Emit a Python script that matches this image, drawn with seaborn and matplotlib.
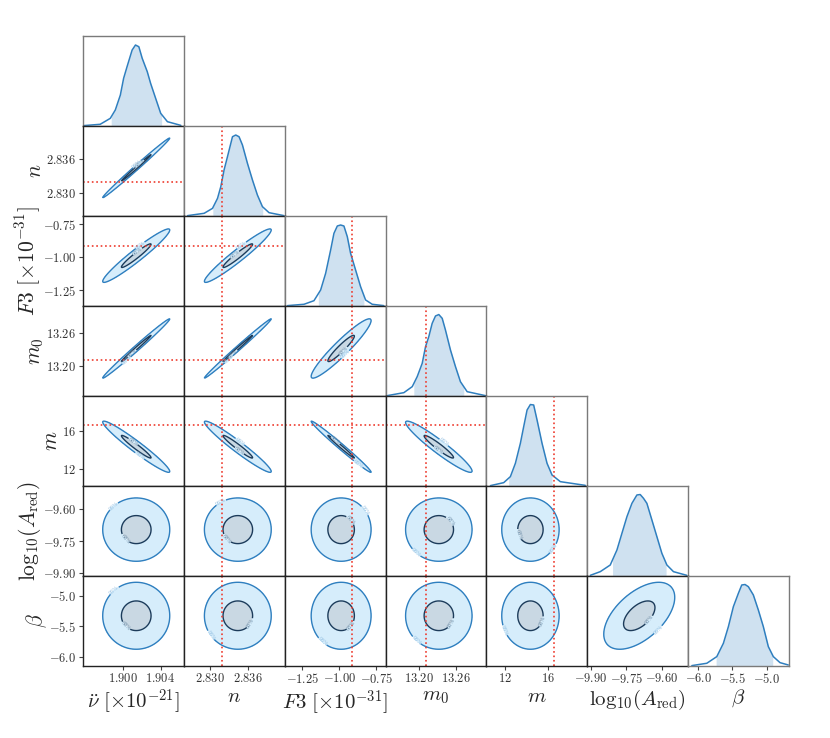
import numpy as np
import matplotlib
matplotlib.use("Agg")
import matplotlib.pyplot as plt
import seaborn as sns
from matplotlib.ticker import FixedLocator, FuncFormatter

# ---------------- data ----------------
labels = [r"$\ddot{\nu}\ [\times 10^{-21}]$", r"$n$", r"$F3\ [\times 10^{-31}]$",
          r"$m_0$", r"$m$", r"$\mathrm{log}_{10}(A_{\mathrm{red}})$", r"$\beta$"]
axis_ranges = [(1.8957, 1.9065), (2.8260, 2.8417), (-1.370, -0.687),
               (13.147, 13.308), (10.24, 19.66), (-9.915, -9.490), (-6.145, -4.677)]
tick_values = [[1.900, 1.904], [2.830, 2.836], [-1.25, -1.00, -0.75],
               [13.20, 13.26], [12, 16], [-9.90, -9.75, -9.60], [-6.0, -5.5, -5.0]]
tick_decimals = [3, 3, 2, 2, 0, 2, 1]

means = [1.9014, 2.8344, -0.988, 13.232, 14.35, -9.696, -5.326]
sigmas = [0.00138, 0.0020, 0.078, 0.0204, 1.03, 0.0575, 0.21]
truths = [None, 2.832, -0.915, 13.211, 16.58, None, None]

# pairwise correlations (row param, column param)
corr = {
    (1, 0): 0.995,
    (2, 0): 0.96, (2, 1): 0.96,
    (3, 0): 0.993, (3, 1): 0.995, (3, 2): 0.94,
    (4, 0): -0.965, (4, 1): -0.965, (4, 2): -0.99, (4, 3): -0.95,
    (5, 0): 0.0, (5, 1): 0.0, (5, 2): 0.0, (5, 3): 0.0, (5, 4): 0.0,
    (6, 0): 0.0, (6, 1): 0.0, (6, 2): 0.0, (6, 3): 0.0, (6, 4): 0.0, (6, 5): 0.55,
}

# 1D marginals (x value, relative height)
nu_x = [1.89573, 1.89754, 1.89862, 1.89916, 1.89970, 1.90005, 1.90042, 1.90096, 1.90132,
        1.90168, 1.90204, 1.90258, 1.90294, 1.90348, 1.90402, 1.90474, 1.90618]
nu_h = [0.004, 0.019, 0.085, 0.178, 0.344, 0.530, 0.660, 0.844, 0.900,
        0.881, 0.752, 0.604, 0.474, 0.307, 0.141, 0.048, 0.007]
n_x = [2.82657, 2.82916, 2.83046, 2.83124, 2.83175, 2.83226, 2.83279, 2.83357, 2.83408,
       2.83459, 2.83512, 2.83590, 2.83668, 2.83745, 2.83823, 2.83926, 2.84159]
n_h = [0.004, 0.030, 0.085, 0.196, 0.326, 0.511, 0.659, 0.881, 0.900,
       0.881, 0.789, 0.585, 0.400, 0.233, 0.104, 0.037, 0.004]
f3_x = [-1.3518, -1.2395, -1.1719, -1.1266, -1.0928, -1.0590, -1.0367, -1.0137, -0.9914,
        -0.9691, -0.9461, -0.9238, -0.8900, -0.8562, -0.8224, -0.7771, -0.6987]
f3_h = [0.004, 0.019, 0.059, 0.178, 0.363, 0.622, 0.807, 0.889, 0.900,
        0.889, 0.770, 0.585, 0.400, 0.215, 0.067, 0.019, 0.004]
m0_x = [13.1497, 13.1762, 13.1896, 13.1975, 13.2055, 13.2108, 13.2160, 13.2214, 13.2267,
        13.2320, 13.2374, 13.2426, 13.2506, 13.2586, 13.2665, 13.2772, 13.3064]
m0_h = [0.004, 0.037, 0.104, 0.215, 0.363, 0.548, 0.659, 0.807, 0.889,
        0.905, 0.863, 0.733, 0.511, 0.326, 0.159, 0.048, 0.004]
m_x = [10.613, 11.854, 12.478, 12.945, 13.411, 13.720, 14.036, 14.344, 14.652,
       14.969, 15.435, 15.901, 16.368, 17.142, 19.474]
m_h = [0.004, 0.037, 0.104, 0.252, 0.474, 0.659, 0.844, 0.905, 0.900,
       0.733, 0.474, 0.252, 0.122, 0.048, 0.007]
a_x = [-9.9024, -9.8603, -9.8182, -9.7900, -9.7690, -9.7479, -9.7269, -9.7059, -9.6920,
       -9.6781, -9.6638, -9.6427, -9.6217, -9.6007, -9.5796, -9.5518, -9.4955]
a_h = [0.007, 0.048, 0.122, 0.289, 0.474, 0.659, 0.807, 0.900, 0.905,
       0.863, 0.807, 0.622, 0.437, 0.252, 0.122, 0.048, 0.007]
b_x = [-6.0912, -5.8732, -5.7278, -5.6319, -5.5592, -5.4866, -5.4139, -5.3645, -5.3165,
       -5.2685, -5.1959, -5.1232, -5.0505, -4.9778, -4.9052, -4.8078, -4.6872]
b_h = [0.004, 0.030, 0.104, 0.252, 0.437, 0.659, 0.807, 0.900, 0.905,
       0.881, 0.789, 0.622, 0.437, 0.215, 0.104, 0.037, 0.011]
marg_x = [nu_x, n_x, f3_x, m0_x, m_x, a_x, b_x]
marg_h = [nu_h, n_h, f3_h, m0_h, m_h, a_h, b_h]
shade = [(1.89872, 1.90412), (2.83051, 2.83828), (-1.1422, -0.8339), (13.1921, 13.2718),
         (12.32, 16.37), (-9.8085, -9.583), (-5.738, -4.914)]

contour_labels = ["68%", "95%"]

# ---------------- style ----------------
sns.set_style("white")
plt.rcParams["mathtext.fontset"] = "cm"
plt.rcParams["font.family"] = ["DejaVu Serif"]

LINE = "#2f7fbf"
FILL1D = "#cfe1f0"
OUT_FILL = "#d6edfb"
IN_FILL = "#c9d8e3"
IN_LINE = "#1c3b5a"
RED = "#ee3b2e"
R_LEVELS = [1.15, 2.6]

N = len(labels)
fig = plt.figure(figsize=(8.3, 7.38), dpi=100)
gs = fig.add_gridspec(N, N, left=0.1, right=0.9506, top=0.9512, bottom=0.0976,
                      wspace=0, hspace=0)


def fmt(d):
    return FuncFormatter(lambda v, p: f"${v:.{d}f}$")


for i in range(N):
    for j in range(i + 1):
        ax = fig.add_subplot(gs[i, j])
        if i == j:
            x = np.array(marg_x[i])
            h = np.array(marg_h[i])
            lo, hi = shade[i]
            xs = np.sort(np.concatenate([x, [lo, hi]]))
            hs = np.interp(xs, x, h)
            ax.fill_between(xs, 0, hs, where=(xs >= lo) & (xs <= hi), color=FILL1D, lw=0)
            sns.lineplot(x=x, y=h, ax=ax, color=LINE, lw=1.1, sort=True)
            ax.set_xlim(*axis_ranges[i])
            ax.set_ylim(0, 1.0)
            ax.set_yticks([])
            ax.set_ylabel("")
            for s in ax.spines.values():
                s.set_color("#7a7a7a")
                s.set_linewidth(1.0)
            if truths[i] is not None:
                ax.axvline(truths[i], color=RED, ls=":", lw=1.2)
        else:
            ax.set_xlim(*axis_ranges[j])
            ax.set_ylim(*axis_ranges[i])
            rho = corr[(i, j)]
            gx = np.linspace(*axis_ranges[j], 400)
            gy = np.linspace(*axis_ranges[i], 400)
            X, Y = np.meshgrid(gx, gy)
            zx = (X - means[j]) / sigmas[j]
            zy = (Y - means[i]) / sigmas[i]
            R2 = (zx ** 2 - 2 * rho * zx * zy + zy ** 2) / (1 - rho ** 2)
            l1, l2 = R_LEVELS[0] ** 2, R_LEVELS[1] ** 2
            ax.contourf(X, Y, R2, levels=[0, l1, l2], colors=[IN_FILL, OUT_FILL])
            cs2 = ax.contour(X, Y, R2, levels=[l2], colors=[LINE], linewidths=1.0)
            cs1 = ax.contour(X, Y, R2, levels=[l1], colors=[IN_LINE], linewidths=1.0)
            ax.clabel(cs1, fmt={l1: contour_labels[0]}, fontsize=3.5, colors="#6f8ea8",
                      inline=True, inline_spacing=0)
            ax.clabel(cs2, fmt={l2: contour_labels[1]}, fontsize=3.5, colors="#90bde0",
                      inline=True, inline_spacing=0)
            for s in ax.spines.values():
                s.set_color("#222222")
                s.set_linewidth(1.0)
            if truths[j] is not None:
                ax.axvline(truths[j], color=RED, ls=":", lw=1.2)
            if truths[i] is not None:
                ax.axhline(truths[i], color=RED, ls=":", lw=1.2)
        # ticks
        if i == N - 1:
            ax.xaxis.set_major_locator(FixedLocator(tick_values[j]))
            ax.xaxis.set_major_formatter(fmt(tick_decimals[j]))
            ax.tick_params(axis="x", bottom=True, length=3, width=0.8, labelsize=9,
                           colors="#444444", pad=1.5)
            ax.set_xlabel(labels[j], fontsize=15, labelpad=1)
        else:
            ax.set_xticks([])
            ax.set_xlabel("")
        if j == 0 and i > 0:
            ax.yaxis.set_major_locator(FixedLocator(tick_values[i]))
            ax.yaxis.set_major_formatter(fmt(tick_decimals[i]))
            ax.tick_params(axis="y", left=True, length=3, width=0.8, labelsize=9,
                           colors="#444444", pad=2)
            ax.set_ylabel(labels[i], fontsize=15.5, labelpad=0)
        elif i != j:
            ax.set_yticks([])
        for lab in ax.get_xticklabels() + ax.get_yticklabels():
            lab.set_color("#333333")

fig.savefig("out.png", dpi=100)
